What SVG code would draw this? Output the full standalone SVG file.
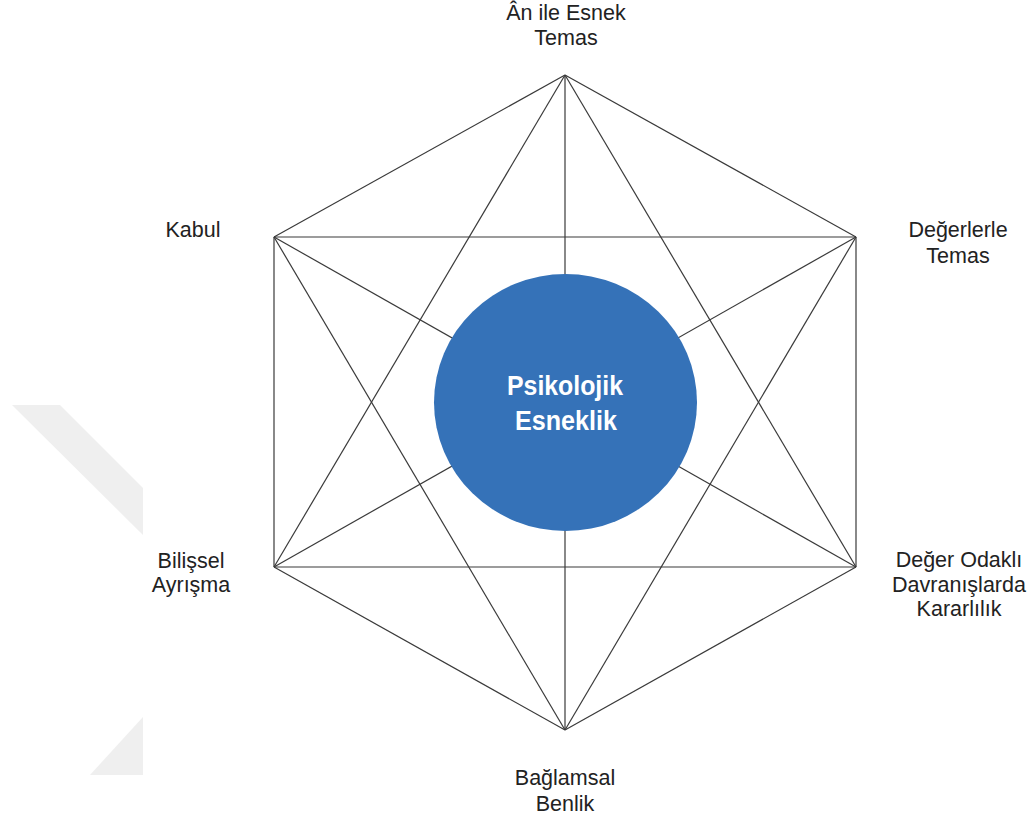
<svg xmlns="http://www.w3.org/2000/svg" width="1032" height="823" viewBox="0 0 1032 823">
<style>
.lbl{font-family:"Liberation Sans",Arial,Helvetica,sans-serif;font-size:21.5px;fill:#222;text-anchor:middle}
.ctr{font-family:"Liberation Sans",Arial,sans-serif;font-weight:bold;font-size:28px;fill:#fff;text-anchor:middle}
.edge{stroke:#3a3a3a;stroke-width:1.2;fill:none}
.wm{fill:#efefef}
</style>
<rect width="1032" height="823" fill="#ffffff"/>
<g id="watermark">
<polygon class="wm" points="12,405 60,405 143,488 143,535"/>
<polygon class="wm" points="143,717 143,775 90,775"/>
</g>
<g id="connectors">
<line class="edge" x1="565" y1="75" x2="856" y2="237"/>
<line class="edge" x1="856" y1="237" x2="856" y2="567"/>
<line class="edge" x1="856" y1="567" x2="565" y2="730"/>
<line class="edge" x1="565" y1="730" x2="274" y2="567"/>
<line class="edge" x1="274" y1="567" x2="274" y2="237"/>
<line class="edge" x1="274" y1="237" x2="565" y2="75"/>
<line class="edge" x1="565" y1="75" x2="856" y2="567"/>
<line class="edge" x1="565" y1="75" x2="274" y2="567"/>
<line class="edge" x1="565" y1="730" x2="856" y2="237"/>
<line class="edge" x1="565" y1="730" x2="274" y2="237"/>
<line class="edge" x1="274" y1="237" x2="856" y2="237"/>
<line class="edge" x1="274" y1="567" x2="856" y2="567"/>
<line class="edge" x1="565" y1="75" x2="565" y2="730"/>
<line class="edge" x1="274" y1="237" x2="856" y2="567"/>
<line class="edge" x1="856" y1="237" x2="274" y2="567"/>
</g>
<g id="center">
<ellipse cx="565.5" cy="402.5" rx="131.5" ry="128.5" fill="#3572b8"/>
<text class="ctr" x="565" y="395" textLength="116" lengthAdjust="spacingAndGlyphs">Psikolojik</text>
<text class="ctr" x="566" y="430" textLength="102" lengthAdjust="spacingAndGlyphs">Esneklik</text>
</g>
<g id="node-top">
<text class="lbl" x="566" y="20">Ân ile Esnek</text>
<text class="lbl" x="566" y="45">Temas</text>
</g>
<g id="node-upper-right">
<text class="lbl" x="958" y="237">Değerlerle</text>
<text class="lbl" x="958" y="263">Temas</text>
</g>
<g id="node-lower-right">
<text class="lbl" x="959" y="567">Değer Odaklı</text>
<text class="lbl" x="959" y="592">Davranışlarda</text>
<text class="lbl" x="959" y="616">Kararlılık</text>
</g>
<g id="node-bottom">
<text class="lbl" x="565" y="785">Bağlamsal</text>
<text class="lbl" x="565" y="811">Benlik</text>
</g>
<g id="node-lower-left">
<text class="lbl" x="191" y="568">Bilişsel</text>
<text class="lbl" x="191" y="592">Ayrışma</text>
</g>
<g id="node-upper-left">
<text class="lbl" x="193" y="237">Kabul</text>
</g>
</svg>
